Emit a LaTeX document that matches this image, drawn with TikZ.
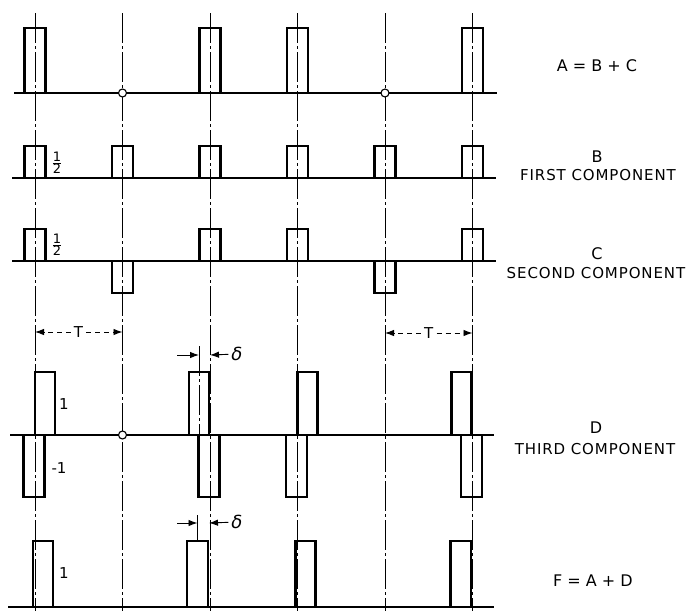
\documentclass[tikz,border=0pt]{standalone}
\usepackage{fontspec}
\setmainfont{DejaVu Sans}
\newfontfamily\spacedfont{DejaVu Sans}[LetterSpace=6]
\usetikzlibrary{arrows.meta}

\newcommand{\halfval}{$\frac{\mbox{1}}{\mbox{2}}$}

\tikzset{
  pulsebox/.style={line width=2.3pt},
  baseln/.style={line width=2pt},
  centreln/.style={line width=0.9pt, dash pattern=on 30pt off 3pt on 3pt off 3pt},
  dimln/.style={line width=0.9pt, dash pattern=on 5pt off 4pt, -{Latex[length=9pt,width=6.5pt]}},
  dimarr/.style={line width=0.9pt, -{Latex[length=9pt,width=6.5pt]}},
  eqnlbl/.style={font=\fontsize{16}{16}\selectfont, inner sep=1pt},
  wordlbl/.style={font=\spacedfont\fontsize{15}{15}\selectfont, inner sep=1pt},
  numlbl/.style={font=\fontsize{15}{15}\selectfont, inner sep=3pt},
  deltalbl/.style={font=\itshape\fontsize{18}{18}\selectfont, inner sep=3pt},
  fraclbl/.style={font=\fontsize{13}{13}\selectfont, inner sep=0pt},
  zerodot/.style={draw, circle, fill=white, line width=1.1pt, inner sep=0pt, minimum size=8pt}
}

\begin{document}
\begin{tikzpicture}[x=1pt,y=-1pt]
\useasboundingbox (0,0) rectangle (689,611);

% centre lines
\draw[centreln] (35,13) -- (35,611);
\draw[centreln] (122.5,13) -- (122.5,611);
\draw[centreln] (210,13) -- (210,611);
\draw[centreln] (297.5,13) -- (297.5,611);
\draw[centreln] (385,13) -- (385,611);
\draw[centreln] (472.5,13) -- (472.5,611);

% base lines
\draw[baseln] (14,93) -- (497,93);
\draw[baseln] (12,178) -- (496,178);
\draw[baseln] (12,261) -- (496,261);
\draw[baseln] (10,435) -- (494,435);
\draw[baseln] (8,607) -- (494,607);

% A = B + C
\draw[pulsebox] (24.5,93) -- (24.5,28) -- (45.5,28) -- (45.5,93);
\draw[pulsebox] (199.5,93) -- (199.5,28) -- (220.5,28) -- (220.5,93);
\draw[pulsebox] (287,93) -- (287,28) -- (308,28) -- (308,93);
\draw[pulsebox] (462,93) -- (462,28) -- (483,28) -- (483,93);
\node[zerodot] (zA1) at (122.5,93) {};
\node[zerodot] (zA4) at (385,93) {};

% B first component
\draw[pulsebox] (24.5,178) -- (24.5,146) -- (45.5,146) -- (45.5,178);
\draw[pulsebox] (112,178) -- (112,146) -- (133,146) -- (133,178);
\draw[pulsebox] (199.5,178) -- (199.5,146) -- (220.5,146) -- (220.5,178);
\draw[pulsebox] (287,178) -- (287,146) -- (308,146) -- (308,178);
\draw[pulsebox] (374.5,178) -- (374.5,146) -- (395.5,146) -- (395.5,178);
\draw[pulsebox] (462,178) -- (462,146) -- (483,146) -- (483,178);
\node[fraclbl] (hB) at (57,163) {\halfval};

% C second component
\draw[pulsebox] (24.5,261) -- (24.5,229) -- (45.5,229) -- (45.5,261);
\draw[pulsebox] (112,261) -- (112,293) -- (133,293) -- (133,261);
\draw[pulsebox] (199.5,261) -- (199.5,229) -- (220.5,229) -- (220.5,261);
\draw[pulsebox] (287,261) -- (287,229) -- (308,229) -- (308,261);
\draw[pulsebox] (374.5,261) -- (374.5,293) -- (395.5,293) -- (395.5,261);
\draw[pulsebox] (462,261) -- (462,229) -- (483,229) -- (483,261);
\node[fraclbl] (hC) at (57,245) {\halfval};

% period T
\coordinate (tAl) at (35,332);
\coordinate (tAr) at (122.5,332);
\node[numlbl] (tA) at (78.5,332) {T};
\draw[dimln] (tA) -- (tAl);
\draw[dimln] (tA) -- (tAr);
\coordinate (tBl) at (385,333);
\coordinate (tBr) at (472.5,333);
\node[numlbl] (tB) at (428.75,333) {T};
\draw[dimln] (tB) -- (tBl);
\draw[dimln] (tB) -- (tBr);

% shift delta, upper
\draw[centreln] (199,346) -- (199,435);
\coordinate (dAs) at (177,355);
\coordinate (dAl) at (199,355);
\coordinate (dAr) at (210,355);
\node[deltalbl] (dA) at (237,354) {δ};
\draw[dimarr] (dAs) -- (dAl);
\draw[dimarr] (dA) -- (dAr);

% D third component
\draw[pulsebox] (35,435) -- (35,372) -- (55,372) -- (55,435);
\draw[pulsebox] (189,435) -- (189,372) -- (209,372) -- (209,435);
\draw[pulsebox] (297.5,435) -- (297.5,372) -- (317.5,372) -- (317.5,435);
\draw[pulsebox] (451.5,435) -- (451.5,372) -- (471.5,372) -- (471.5,435);
\draw[pulsebox] (23.5,435) -- (23.5,497) -- (44.5,497) -- (44.5,435);
\draw[pulsebox] (198.5,435) -- (198.5,497) -- (219.5,497) -- (219.5,435);
\draw[pulsebox] (286,435) -- (286,497) -- (307,497) -- (307,435);
\draw[pulsebox] (461,435) -- (461,497) -- (482,497) -- (482,435);
\node[zerodot] (zD1) at (122.5,435) {};
\node[numlbl] (oneD) at (64,404) {1};
\node[numlbl] (minD) at (59,468) {-1};

% shift delta, lower
\draw[line width=0.9pt] (197.5,515) -- (197.5,541);
\coordinate (dBs) at (177,523);
\coordinate (dBl) at (197.5,523);
\coordinate (dBr) at (209,523);
\node[deltalbl] (dB) at (237,522) {δ};
\draw[dimarr] (dBs) -- (dBl);
\draw[dimarr] (dB) -- (dBr);

% F = A + D
\draw[pulsebox] (33,607) -- (33,541) -- (53,541) -- (53,607);
\draw[pulsebox] (187,607) -- (187,541) -- (208,541) -- (208,607);
\draw[pulsebox] (295.5,607) -- (295.5,541) -- (315.5,541) -- (315.5,607);
\draw[pulsebox] (450.5,607) -- (450.5,541) -- (471,541) -- (471,607);
\node[numlbl] (oneF) at (64,573) {1};

% captions
\node[eqnlbl] (capA) at (597,66) {A = B + C};
\node[eqnlbl] (capB) at (597,157) {B};
\node[wordlbl] (txtB) at (598,175) {FIRST COMPONENT};
\node[eqnlbl] (capC) at (597,254) {C};
\node[wordlbl] (txtC) at (596,273) {SECOND COMPONENT};
\node[eqnlbl] (capD) at (596,428) {D};
\node[wordlbl] (txtD) at (595,449) {THIRD COMPONENT};
\node[eqnlbl] (capF) at (593,581) {F = A + D};

\end{tikzpicture}
\end{document}
